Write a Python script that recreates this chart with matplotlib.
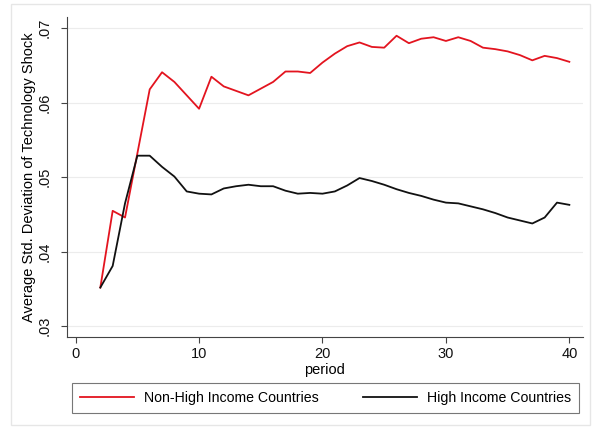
import matplotlib
matplotlib.use("Agg")
import matplotlib.pyplot as plt
from matplotlib.patches import Rectangle

plt.rcParams['font.family'] = ['Liberation Sans', 'DejaVu Sans']

periods = list(range(2, 41))
non_high = [0.0352, 0.0455, 0.0446, 0.0532, 0.0618, 0.0641, 0.0628, 0.0610, 0.0592,
            0.0635, 0.0622, 0.0616, 0.0610, 0.0619, 0.0628, 0.0642, 0.0642, 0.0640,
            0.0654, 0.0666, 0.0676, 0.0681, 0.0675, 0.0674, 0.0690, 0.0680, 0.0686,
            0.0688, 0.0683, 0.0688, 0.0683, 0.0674, 0.0672, 0.0669, 0.0664, 0.0657,
            0.0663, 0.0660, 0.0655]
high = [0.0352, 0.0381, 0.0465, 0.0529, 0.0529, 0.0514, 0.0501, 0.0481, 0.0478,
        0.0477, 0.0485, 0.0488, 0.0490, 0.0488, 0.0488, 0.0482, 0.0478, 0.0479,
        0.0478, 0.0481, 0.0489, 0.0499, 0.0495, 0.0490, 0.0484, 0.0479, 0.0475,
        0.0470, 0.0466, 0.0465, 0.0461, 0.0457, 0.0452, 0.0446, 0.0442, 0.0438,
        0.0446, 0.0466, 0.0463]
xticks = [0, 10, 20, 30, 40]
yticks = [0.03, 0.04, 0.05, 0.06, 0.07]
ytick_labels = ['.03', '.04', '.05', '.06', '.07']

fig = plt.figure(figsize=(5.93, 4.28), dpi=100)
fig.patch.set_facecolor('white')
# faint outer frame
fig.add_artist(Rectangle((11 / 593, 3 / 428), 579 / 593, 421 / 428,
                         transform=fig.transFigure, fill=False,
                         edgecolor='#e6e6e6', linewidth=1.0))

ax = fig.add_axes([0.113, 0.2126, 0.870, 0.7474])
ax.plot(periods, non_high, color='#e3141f', linewidth=1.3, label='Non-High Income Countries')
ax.plot(periods, high, color='#111111', linewidth=1.3, label='High Income Countries')

ax.set_xlim(-0.7, 41.1)
ax.set_ylim(0.02856, 0.0715)
ax.set_xticks(xticks)
ax.set_yticks(yticks)
ax.set_yticklabels(ytick_labels, rotation=90, va='center')
ax.tick_params(axis='both', direction='out', length=4, width=0.8, color='#444444',
               labelsize=10.5, labelcolor='#111111')
ax.tick_params(axis='y', pad=7)
ax.grid(axis='y', color='#ececec', linewidth=0.8)
ax.set_axisbelow(True)
for side in ['top', 'right']:
    ax.spines[side].set_visible(False)
for side in ['left', 'bottom']:
    ax.spines[side].set_color('#444444')
    ax.spines[side].set_linewidth(0.8)

ax.set_xlabel('period', fontsize=10.5, labelpad=1)
ax.set_ylabel('Average Std. Deviation of Technology Shock', fontsize=10.5, labelpad=1)

leg = fig.legend(loc='lower left', mode='expand',
                 bbox_to_anchor=(72 / 593, 1 - 413 / 428, 507 / 593, 28 / 428),
                 ncol=2, fontsize=10.2, frameon=True, fancybox=False,
                 handlelength=3.8, handletextpad=0.7, columnspacing=2.2,
                 borderpad=0.55, borderaxespad=0)
leg.get_frame().set_edgecolor('#555555')
leg.get_frame().set_linewidth(0.8)

fig.savefig('out.png', dpi=100)
